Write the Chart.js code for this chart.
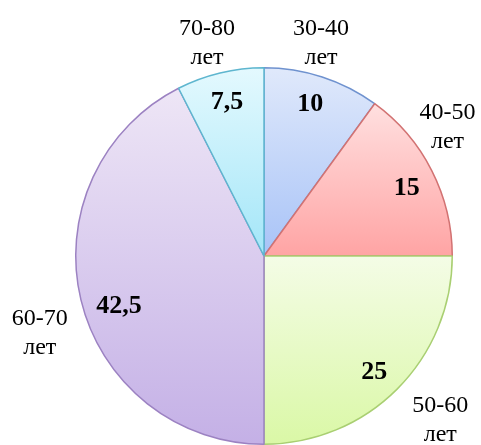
<!DOCTYPE html>
<html>
<head>
<meta charset="utf-8">
<script src="https://cdn.jsdelivr.net/npm/chart.js@4.4.1/dist/chart.umd.min.js"></script>
<style>
  html, body { margin: 0; padding: 0; background: #fff; }
  #wrap { width: 481px; height: 445px; position: relative; }
</style>
</head>
<body>
<div id="wrap"><canvas id="pie"></canvas></div>
<script>
// данные диаграммы
const categories = ['30-40 лет', '40-50 лет', '50-60 лет', '60-70 лет', '70-80 лет'];
const values = [10, 15, 25, 42.5, 7.5];

// цвета секторов: верх / низ градиента и контур
const topColors = ['#e0e9fb', '#ffe0e0', '#f4fce6', '#eee6f6', '#e4f9fe'];
const bottomColors = ['#a8c3f7', '#ffa4a4', '#daf8a6', '#c4b0e6', '#a3e6f8'];
const borderColors = ['#6f92cf', '#d27272', '#a9cf72', '#9c82c2', '#5eb6cf'];

// подгонка положения подписей (градусы, доля радиуса)
const labelTurn = [-3, -8, -2, -5.5, -1.5];
const labelDist = [1.17, 1.19, 1.28, 1.26, 1.17];
const valueTurn = [-1, 1.5, 1.5, -5.5, 0];
const valueDist = [0.84, 0.84, 0.85, 0.815, 0.84];

const serif = "'Liberation Serif', 'Times New Roman', serif";

// вертикальный градиент по габариту сектора
function sliceGradient(ctx) {
    const chart = ctx.chart;
    const area = chart.chartArea;
    const i = ctx.dataIndex;
    if (!area) return topColors[i];
    const cx = (area.left + area.right) / 2;
    const cy = (area.top + area.bottom) / 2;
    const r = Math.min(area.right - area.left, area.bottom - area.top) / 2;
    const total = values.reduce((a, b) => a + b, 0);
    let before = 0;
    for (let k = 0; k < i; k++) before += values[k];
    const a0 = -Math.PI / 2 + 2 * Math.PI * before / total;
    const a1 = a0 + 2 * Math.PI * values[i] / total;
    const ys = [cy, cy + r * Math.sin(a0), cy + r * Math.sin(a1)];
    [-Math.PI / 2, Math.PI / 2, 3 * Math.PI / 2].forEach(a => {
        if (a > a0 && a < a1) ys.push(cy + r * Math.sin(a));
    });
    const y0 = Math.min(...ys), y1 = Math.max(...ys);
    const g = chart.ctx.createLinearGradient(0, y0, 0, y1);
    g.addColorStop(0, topColors[i]);
    g.addColorStop(1, bottomColors[i]);
    return g;
}

// подписи значений и категорий
const pieLabels = {
    id: 'pieLabels',
    afterDatasetsDraw(chart) {
        const c = chart.ctx;
        const arcs = chart.getDatasetMeta(0).data;
        const deg = Math.PI / 180;
        c.save();
        c.fillStyle = '#000';
        c.textAlign = 'center';
        c.textBaseline = 'middle';
        arcs.forEach((arc, i) => {
            const mid = (arc.startAngle + arc.endAngle) / 2;
            const r = arc.outerRadius;

            const va = mid + valueTurn[i] * deg;
            c.font = 'bold 26px ' + serif;
            c.fillText(String(values[i]).replace('.', ','),
                arc.x + Math.cos(va) * r * valueDist[i],
                arc.y + Math.sin(va) * r * valueDist[i]);

            const la = mid + labelTurn[i] * deg;
            const lx = arc.x + Math.cos(la) * r * labelDist[i];
            const ly = arc.y + Math.sin(la) * r * labelDist[i];
            const lines = categories[i].split(' ');
            c.font = '24px ' + serif;
            lines.forEach((t, k) => {
                c.fillText(t, lx, ly + (k - (lines.length - 1) / 2) * 29);
            });
        });
        c.restore();
    }
};

new Chart(document.getElementById('pie'), {
    type: 'pie',
    data: {
        labels: categories,
        datasets: [{
            data: values,
            backgroundColor: sliceGradient,
            borderColor: borderColors,
            borderWidth: 1.5
        }]
    },
    options: {
        responsive: true,
        maintainAspectRatio: false,
        animation: false,
        layout: { padding: { left: 75, right: 28, top: 67, bottom: 0 } },
        plugins: {
            legend: { display: false },
            tooltip: { enabled: false }
        }
    },
    plugins: [pieLabels]
});
</script>
</body>
</html>
